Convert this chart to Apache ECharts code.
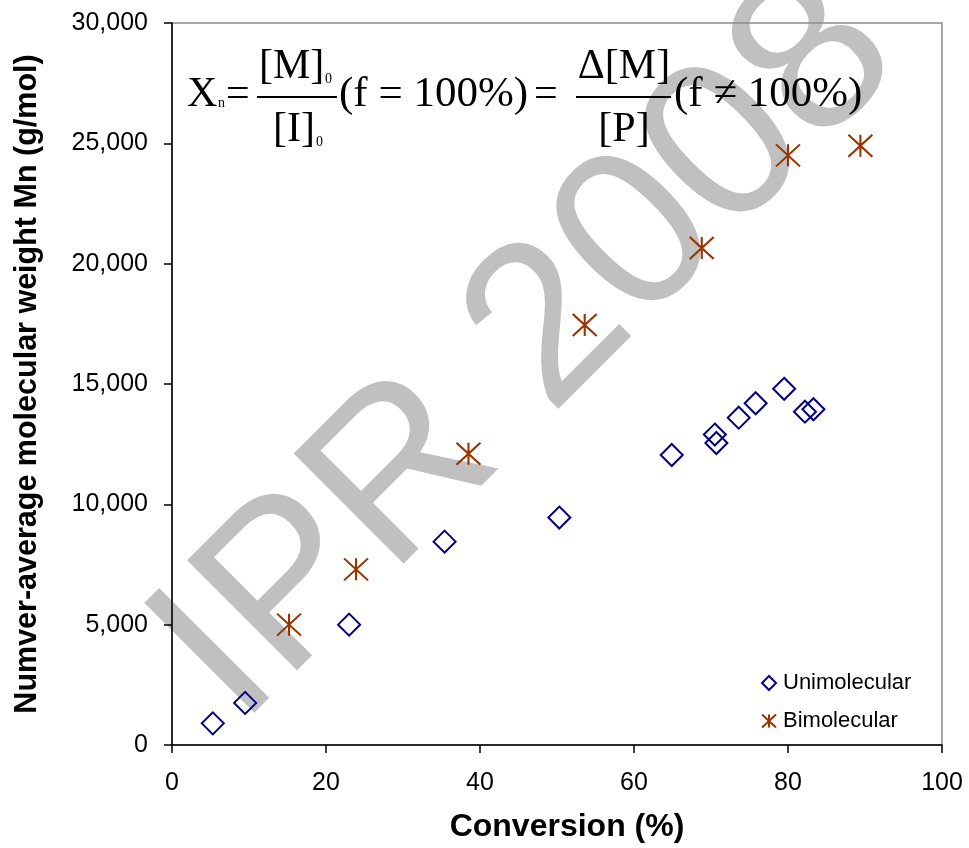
<!DOCTYPE html>
<html>
<head>
<meta charset="utf-8">
<script src="https://cdn.jsdelivr.net/npm/echarts@6/dist/echarts.min.js"></script>
<style>
html,body{margin:0;padding:0;background:#fff;}
#chart{width:969px;height:848px;}
</style>
</head>
<body>
<div id="chart"></div>
<script>
// ---- data ----
const seriesNames = ['Unimolecular', 'Bimolecular'];
const uniX = [5.3, 9.5, 23.0, 35.4, 50.3, 64.9, 70.5, 70.7, 73.6, 75.8, 79.5, 82.2, 83.3];
const uniY = [900, 1750, 5000, 8450, 9450, 12050, 12900, 12550, 13600, 14200, 14800, 13850, 13950];
const biX = [15.2, 23.9, 38.5, 53.6, 68.8, 80.0, 89.4];
const biY = [5000, 7300, 12100, 17450, 20650, 24500, 24900];
const xTicks = [0, 20, 40, 60, 80, 100];
const yTicks = [0, 5000, 10000, 15000, 20000, 25000, 30000];
const xTitle = 'Conversion (%)';
const yTitle = 'Numver-average molecular weight Mn (g/mol)';
const watermark = 'IPR 2008';

const uniData = uniX.map((x, i) => [x, uniY[i]]);
const biData = biX.map((x, i) => [x, biY[i]]);

const chart = echarts.init(document.getElementById('chart'), null, {renderer: 'canvas'});
const SANS = 'Arial, "Liberation Sans", sans-serif';
const SERIF = '"Times New Roman", "Liberation Serif", serif';
const asterisk = 'path://M0,0L24,22M24,0L0,22M12,0L12,22';

function serifText(txt, x, baseline, size, align) {
  return {
    type: 'text', z: 100,
    x: x, y: baseline - 0.305 * size,
    style: {
      text: txt, fill: '#000',
      font: size + 'px ' + SERIF,
      align: align || 'left', verticalAlign: 'middle'
    }
  };
}
function bar(x1, x2, y) {
  return {type: 'line', z: 100, shape: {x1: x1, y1: y, x2: x2, y2: y}, style: {stroke: '#000', lineWidth: 2}};
}

const graphics = [
  {
    type: 'text', z: -10, silent: true,
    x: 245, y: 733, rotation: Math.PI / 4,
    style: {
      text: watermark, fill: '#c0c0c0',
      font: '226px ' + SANS,
      align: 'left', verticalAlign: 'middle', x: 0, y: -0.31 * 226
    }
  },
  serifText('X', 187, 108, 42),
  serifText('n', 218, 108, 14),
  serifText('=', 226, 108, 42),
  serifText('[M]', 259, 80, 42),
  serifText('0', 325, 84, 14),
  bar(257, 337, 97),
  serifText('[I]', 273, 143, 42),
  serifText('0', 316, 147, 14),
  serifText('(f = 100%)', 339, 108, 43),
  serifText('=', 534, 108, 42),
  serifText('\u0394[M]', 624, 80, 42, 'center'),
  bar(576, 671, 97),
  serifText('[P]', 624, 143, 42, 'center'),
  serifText('(f \u2260 100%)', 674, 108, 43)
];

const option = {
  backgroundColor: '#fff',
  animation: false,
  grid: {
    left: 172, right: 27, top: 23, bottom: 97, z: 0,
    show: true, borderColor: '#8c8c8c', borderWidth: 1.5, backgroundColor: 'transparent'
  },
  legend: {
    orient: 'vertical',
    left: 756, top: 667,
    itemWidth: 14, itemHeight: 14, itemGap: 16,
    textStyle: {fontFamily: SANS, fontSize: 22, color: '#000', padding: [0, 0, 0, 2]},
    data: seriesNames
  },
  xAxis: {
    type: 'value', min: xTicks[0], max: xTicks[xTicks.length - 1], interval: 20,
    name: xTitle, nameLocation: 'middle', nameGap: 66,
    nameTextStyle: {fontFamily: SANS, fontSize: 32, fontWeight: 'bold', color: '#000', padding: [0, 0, 0, 20]},
    axisLine: {show: true, lineStyle: {color: '#000', width: 1.5}},
    axisTick: {show: true, inside: false, length: 8, lineStyle: {color: '#000', width: 1.5}},
    axisLabel: {fontFamily: SANS, fontSize: 25, color: '#000', margin: 26},
    splitLine: {show: false}
  },
  yAxis: {
    type: 'value', min: yTicks[0], max: yTicks[yTicks.length - 1], interval: 5000,
    name: yTitle, nameLocation: 'middle', nameGap: 129, nameRotate: 90,
    nameTextStyle: {fontFamily: SANS, fontSize: 30.5, fontWeight: 'bold', color: '#000'},
    axisLine: {show: true, lineStyle: {color: '#000', width: 1.5}},
    axisTick: {show: true, inside: false, length: 8, lineStyle: {color: '#000', width: 1.5}},
    axisLabel: {
      fontFamily: SANS, fontSize: 25, color: '#000', margin: 24,
      formatter: v => v.toLocaleString('en-US')
    },
    splitLine: {show: false}
  },
  graphic: graphics,
  series: [
    {
      name: seriesNames[0], type: 'scatter', z: 5,
      symbol: 'diamond', symbolSize: 22,
      itemStyle: {color: 'rgba(0,0,0,0)', borderColor: '#000080', borderWidth: 2, opacity: 1},
      data: uniData
    },
    {
      name: seriesNames[1], type: 'scatter', z: 5,
      symbol: asterisk, symbolSize: [24, 22],
      itemStyle: {color: 'rgba(0,0,0,0)', borderColor: '#993300', borderWidth: 2, opacity: 1},
      data: biData
    }
  ]
};
chart.setOption(option);
</script>
</body>
</html>
